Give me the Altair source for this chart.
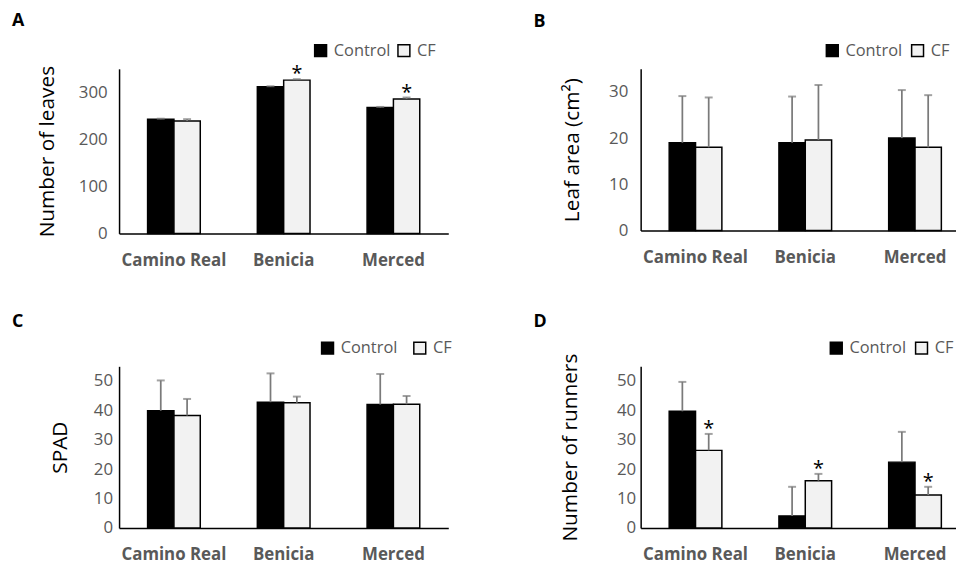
import altair as alt
import pandas as pd

FONT = "Open Sans"

categories = ["Camino Real", "Benicia", "Merced"]
series = ["Control", "CF"]

# Panel A: Number of leaves
leaves_control = [243, 312, 268]
leaves_cf = [239, 326, 286]
leaves_control_err = [1, 1, 1]
leaves_cf_err = [4, 2, 3]
leaves_stars = [False, True, True]

# Panel B: Leaf area (cm2)
area_control = [19.0, 19.0, 20.0]
area_cf = [18.0, 19.6, 18.0]
area_control_err = [10.1, 10.0, 10.4]
area_cf_err = [10.8, 11.9, 11.3]
area_stars = [False, False, False]

# Panel C: SPAD
spad_control = [39.9, 42.8, 42.0]
spad_cf = [38.3, 42.6, 42.1]
spad_control_err = [10.3, 9.8, 10.4]
spad_cf_err = [5.6, 2.1, 2.8]
spad_stars = [False, False, False]

# Panel D: Number of runners
runners_control = [39.7, 4.1, 22.4]
runners_cf = [26.4, 16.1, 11.2]
runners_control_err = [10.0, 9.9, 10.3]
runners_cf_err = [5.6, 2.3, 2.8]
runners_stars = [True, True, True]


def panel(ctrl, cf, ctrl_err, cf_err, stars, ymax, tick_vals, ytitle, letter,
          w, h, title_x, label_pad, legend_x, col_pad, letter_y):
    rows = []
    for i, c in enumerate(categories):
        rows.append(dict(cat=c, series="Control", value=ctrl[i],
                         top=ctrl[i] + ctrl_err[i], star=False))
        rows.append(dict(cat=c, series="CF", value=cf[i],
                         top=cf[i] + cf_err[i], star=bool(stars[i])))
    df = pd.DataFrame(rows)

    x = alt.X("cat:N", sort=categories,
              scale=alt.Scale(paddingInner=0.52, paddingOuter=0.26),
              axis=alt.Axis(title=None, labelAngle=0, ticks=False,
                            domainColor="black", domainWidth=1.5,
                            labelColor="#595959", labelFont=FONT,
                            labelFontSize=17, labelFontWeight="bold",
                            labelPadding=19))
    xo = alt.XOffset("series:N", sort=series,
                     scale=alt.Scale(paddingInner=0, paddingOuter=0))
    yaxis = alt.Axis(values=tick_vals, grid=False, ticks=False,
                     labelOverlap=False, labelFlush=False,
                     domainColor="black", domainWidth=1.5,
                     labelColor="#595959", labelFont=FONT,
                     labelFontSize=17, labelPadding=label_pad,
                     title=ytitle, titleFont=FONT, titleFontSize=21,
                     titleFontWeight="normal", titleColor="#000000",
                     titleX=title_x, titleY=h / 2, titleAngle=270,
                     titleBaseline="middle", titleAlign="center")
    yscale = alt.Scale(domain=[0, ymax], nice=False, zero=True)

    base = alt.Chart(df).encode(x=x, xOffset=xo)

    bars = base.mark_bar(stroke="black", strokeWidth=1.5).encode(
        y=alt.Y("value:Q", scale=yscale, axis=yaxis),
        color=alt.Color("series:N", sort=series,
                        scale=alt.Scale(domain=series, range=["#000000", "#f2f2f2"]),
                        legend=alt.Legend(title=None, orient="none",
                                          legendX=legend_x, legendY=-27,
                                          direction="horizontal",
                                          symbolType="square", symbolSize=144,
                                          symbolStrokeColor="black",
                                          symbolStrokeWidth=1.5,
                                          labelFont=FONT, labelFontSize=16.5,
                                          labelColor="#595959", labelOffset=5,
                                          columnPadding=col_pad, padding=0)),
    )
    err = base.mark_rule(color="#7a7a7a", strokeWidth=1.75).encode(
        y=alt.Y("value:Q", scale=yscale, axis=yaxis), y2="top:Q")
    cap = base.mark_tick(color="#7a7a7a", thickness=2, size=8).encode(
        y=alt.Y("top:Q", scale=yscale, axis=yaxis))
    star = base.transform_filter(alt.datum.star == True).mark_text(
        text="*", font=FONT, fontSize=20, color="black",
        baseline="alphabetic", dy=1).encode(
        y=alt.Y("top:Q", scale=yscale, axis=yaxis))
    lab = alt.Chart(pd.DataFrame({"t": [letter]})).mark_text(
        font=FONT, fontSize=18, fontWeight="bold", color="black",
        align="left", baseline="alphabetic").encode(
        text="t:N", x=alt.value(-108), y=alt.value(letter_y))

    return alt.layer(bars, err, cap, star, lab).properties(width=w, height=h)


A = panel(leaves_control, leaves_cf, leaves_control_err, leaves_cf_err, leaves_stars,
          350, [0, 100, 200, 300], "Number of leaves", "A",
          332, 166, -72, 12, 195, 4, -43)
B = panel(area_control, area_cf, area_control_err, area_cf_err, area_stars,
          35, [0, 10, 20, 30], "Leaf area (cm²)", "B",
          332, 163, -69, 13, 185, 6, -42)
C = panel(spad_control, spad_cf, spad_control_err, spad_cf_err, spad_stars,
          55, [0, 10, 20, 30, 40, 50], "SPAD", "C",
          332, 163, -59, 6.5, 202, 13, -40)
D = panel(runners_control, runners_cf, runners_control_err, runners_cf_err, runners_stars,
          55, [0, 10, 20, 30, 40, 50], "Number of runners", "D",
          332, 163, -71, 5, 189, 6, -40)

chart = alt.concat(A, B, C, D, columns=2, spacing={"row": 134, "column": 194},
                   bounds="flush").resolve_scale(
    color="independent", y="independent", x="independent").resolve_legend(
    color="independent").configure_view(stroke=None).configure_axis(
    labelOverlap=False).properties(
    autosize=alt.AutoSizeParams(type="none"),
    padding={"left": 112, "top": 59, "right": 844, "bottom": 497},
    background="white")

chart.save("out.html", embed_options={"renderer": "svg", "actions": False})
